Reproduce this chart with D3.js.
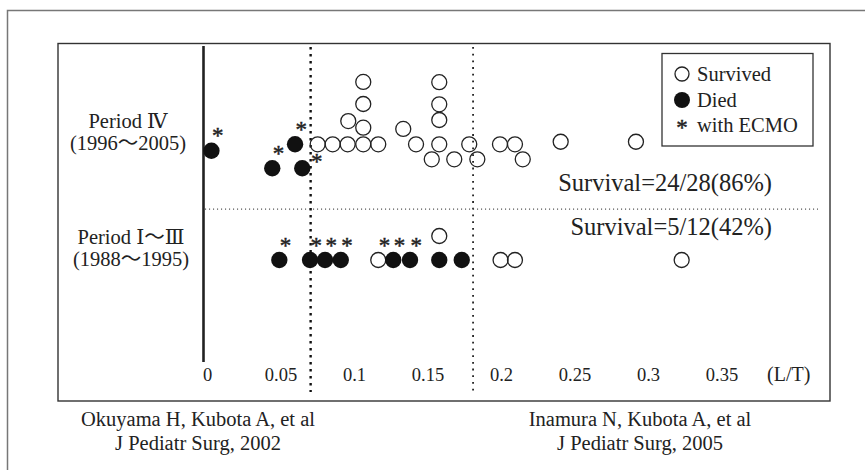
<!DOCTYPE html>
<html>
<head>
<meta charset="utf-8">
<script src="https://cdn.jsdelivr.net/npm/d3@7"></script>
<style>
  html, body { margin: 0; padding: 0; background: #fff; }
  svg { display: block; }
  text { font-family: "Liberation Serif", "DejaVu Serif", "Noto Sans CJK JP", serif; fill: #222; }
</style>
</head>
<body>
<svg id="chart" width="865" height="470"></svg>
<script>
// ---------------- data ----------------
const tickValues = [0, 0.05, 0.1, 0.15, 0.2, 0.25, 0.3, 0.35];
const tickLabels = ["0", "0.05", "0.1", "0.15", "0.2", "0.25", "0.3", "0.35"];
const axisUnit = "(L/T)";
const cutoffs = [0.0705, 0.181];           // dotted reference lines (L/T)
const periods = ["IV", "I-III"];
const periodLabels = [["Period Ⅳ", "(1996～2005)"], ["Period Ⅰ～Ⅲ", "(1988～1995)"]];
const survivalLabels = ["Survival=24/28(86%)", "Survival=5/12(42%)"];
const legendLabels = ["Survived", "Died", "with ECMO"];
const references = [["Okuyama H, Kubota A, et al", "J Pediatr Surg, 2002"],
                    ["Inamura N, Kubota A, et al", "J Pediatr Surg, 2005"]];

// [L/T, stack lane, died (1) / survived (0), ECMO mark ("" none, "ne" upper right, "e" right)]
const periodIV = [
  [0.003, 0.4, 1, "ne"],
  [0.0444, 1.5, 1, "ne"],
  [0.0599, 0, 1, "ne"],
  [0.0648, 1.5, 1, "e"],
  [0.0753, 0, 0, ""],
  [0.0855, 0, 0, ""],
  [0.0957, 0, 0, ""],
  [0.0961, -1.45, 0, ""],
  [0.1063, 0, 0, ""],
  [0.1063, -1.04, 0, ""],
  [0.1063, -2.52, 0, ""],
  [0.1063, -3.9, 0, ""],
  [0.1165, 0, 0, ""],
  [0.1335, -0.96, 0, ""],
  [0.1422, 0, 0, ""],
  [0.1529, 0.94, 0, ""],
  [0.158, 0, 0, ""],
  [0.158, -1.52, 0, ""],
  [0.158, -2.5, 0, ""],
  [0.158, -3.88, 0, ""],
  [0.1682, 0.94, 0, ""],
  [0.1784, 0, 0, ""],
  [0.1839, 0.94, 0, ""],
  [0.1993, 0, 0, ""],
  [0.2095, 0, 0, ""],
  [0.2148, 0.94, 0, ""],
  [0.2406, -0.16, 0, ""],
  [0.2918, -0.16, 0, ""]
];
const periodI_III = [
  [0.0492, 0, 1, "ne"],
  [0.0701, 0, 1, "ne"],
  [0.0803, 0, 1, "ne"],
  [0.091, 0, 1, "ne"],
  [0.1165, 0, 0, "ne"],
  [0.1267, 0, 1, "ne"],
  [0.1381, 0, 1, "ne"],
  [0.158, -1.5, 0, ""],
  [0.158, 0, 1, ""],
  [0.1733, 0, 1, ""],
  [0.1997, 0, 0, ""],
  [0.2095, 0, 0, ""],
  [0.3229, 0, 0, ""]
];
const periodData = [periodIV, periodI_III];

// ---------------- layout ----------------
const svg = d3.select("#chart");
const x = d3.scaleLinear().domain([0, 0.35]).range([207, 721.5]);
const yRow = d3.scalePoint().domain(periods).range([144.3, 260]);
const lane = d3.scaleLinear().domain([0, 1]).range([0, 16]);
const rOpen = 7.5, rFilled = 8.2;
const astSize = 23, astShift = 10.4;   // asterisk font size / centre-to-baseline shift

// outer frame
svg.append("path").attr("d", "M7.5,470 V10.5 H865")
  .attr("fill", "none").attr("stroke", "#777").attr("stroke-width", 1.5);
// inner box
svg.append("rect").attr("x", 58).attr("y", 43.5).attr("width", 772).attr("height", 357.5)
  .attr("fill", "none").attr("stroke", "#333").attr("stroke-width", 1.4);

// y axis line
svg.append("line").attr("x1", 203.5).attr("x2", 203.5).attr("y1", 46).attr("y2", 362)
  .attr("stroke", "#222").attr("stroke-width", 2.6);

// cutoff dotted lines
svg.append("line").attr("x1", x(cutoffs[0])).attr("x2", x(cutoffs[0])).attr("y1", 47).attr("y2", 392)
  .attr("stroke", "#111").attr("stroke-width", 2.4).attr("stroke-dasharray", "2.4,4.6");
svg.append("line").attr("x1", x(cutoffs[1])).attr("x2", x(cutoffs[1])).attr("y1", 47).attr("y2", 392)
  .attr("stroke", "#222").attr("stroke-width", 1.8).attr("stroke-dasharray", "1.8,4.9");

// period separator
const sepY = (yRow(periods[0]) + yRow(periods[1])) / 2 + 7;
svg.append("line").attr("x1", 205).attr("x2", 818).attr("y1", sepY).attr("y2", sepY)
  .attr("stroke", "#555").attr("stroke-width", 1.1).attr("stroke-dasharray", "1.1,2.9");

// x axis
const xAxis = d3.axisBottom(x).tickValues(tickValues)
  .tickFormat((d, i) => tickLabels[i]).tickSize(0).tickPadding(0);
const gx = svg.append("g").attr("transform", "translate(0,368)").call(xAxis);
gx.select(".domain").remove();
gx.selectAll("text").style("font-size", "18.5px").style("font-family", "Liberation Serif, serif").attr("fill", "#222");
svg.append("text").attr("x", 767).attr("y", 381).style("font-size", "20px").text(axisUnit);

// period labels
periodLabels.forEach((lines, i) => {
  const cy = yRow(periods[i]);
  const cx = i === 0 ? 128 : 131;
  svg.append("text").attr("x", cx).attr("y", cy - 16).attr("text-anchor", "middle")
    .style("font-size", "20.5px").text(lines[0]);
  svg.append("text").attr("x", cx).attr("y", cy + 6).attr("text-anchor", "middle")
    .style("font-size", "20.5px").text(lines[1]);
});

// survival labels
survivalLabels.forEach((t, i) => {
  svg.append("text").attr("x", 772).attr("y", i === 0 ? 191 : 235).attr("text-anchor", "end")
    .style("font-size", "24.5px").text(t);
});

// dots
periodData.forEach((rows, i) => {
  const g = svg.append("g");
  const base = yRow(periods[i]);
  g.selectAll("circle").data(rows).join("circle")
    .attr("cx", d => x(d[0]))
    .attr("cy", d => base + lane(d[1]))
    .attr("r", d => d[2] ? rFilled : rOpen)
    .attr("fill", d => d[2] ? "#111" : "none")
    .attr("stroke", "#222")
    .attr("stroke-width", d => d[2] ? 0 : 1.3);
  g.selectAll("text.ecmo").data(rows.filter(d => d[3])).join("text")
    .attr("class", "ecmo")
    .attr("x", d => x(d[0]) + (d[3] === "e" ? 14.4 : 6.3))
    .attr("y", d => base + lane(d[1]) + (d[3] === "e" ? -10 : -17.7) + astShift)
    .attr("text-anchor", "middle")
    .style("font-size", astSize + "px")
    .attr("stroke", "#222").attr("stroke-width", 0.45)
    .text("*");
});

// legend
const lg = svg.append("g");
lg.append("rect").attr("x", 662).attr("y", 53.5).attr("width", 151).attr("height", 92.5)
  .attr("fill", "#fff").attr("stroke", "#333").attr("stroke-width", 1.3);
const legY = [74, 100, 125];
lg.append("circle").attr("cx", 682).attr("cy", legY[0]).attr("r", 7).attr("fill", "none")
  .attr("stroke", "#222").attr("stroke-width", 1.3);
lg.append("circle").attr("cx", 682).attr("cy", legY[1]).attr("r", 8).attr("fill", "#111");
lg.append("text").attr("x", 682).attr("y", legY[2] + astShift).attr("text-anchor", "middle")
  .style("font-size", astSize + "px").attr("stroke", "#222").attr("stroke-width", 0.45).text("*");
legendLabels.forEach((t, i) => {
  lg.append("text").attr("x", 697).attr("y", legY[i] + 6.5).style("font-size", "20.5px").text(t);
});

// references
references.forEach((lines, i) => {
  const cx = i === 0 ? 198 : 640;
  svg.append("text").attr("x", cx).attr("y", 426).attr("text-anchor", "middle")
    .style("font-size", "20.5px").text(lines[0]);
  svg.append("text").attr("x", cx).attr("y", 450).attr("text-anchor", "middle")
    .style("font-size", "20.5px").text(lines[1]);
});
</script>
</body>
</html>
